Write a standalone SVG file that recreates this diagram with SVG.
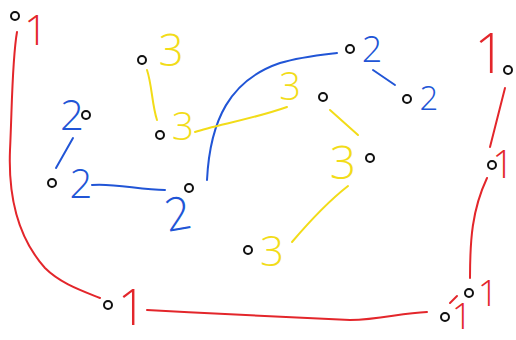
<svg xmlns="http://www.w3.org/2000/svg" width="516" height="340" viewBox="0 0 516 340">
<style>
.n{fill:#fff;stroke:#111;stroke-width:2}
.t{font-family:"Open Sans","Liberation Sans",sans-serif;font-weight:300;text-anchor:middle}
.r{fill:#e3262b}.b{fill:#2155d6}.y{fill:#f2dc18}
.c{fill:none;stroke-width:2;stroke-linecap:round}
.cr{stroke:#e3262b}.cb{stroke:#2155d6}.cy{stroke:#f2dc18}
</style>
<rect width="516" height="340" fill="#fff"/>
<g id="connectors">
<path class="c cr" d="M17,32 C12,60 12,110 10,150 C8,200 20,240 45,268 C60,283 80,290 100,298"/>
<path class="c cr" d="M147,310 C220,314 300,318 350,320 C380,320 400,313 427,312"/>
<path class="c cr" d="M450,303 L457,296"/>
<path class="c cr" d="M470,278 C470,240 472,210 487,178"/>
<path class="c cr" d="M490,147 L505,88"/>
<path class="c cb" d="M73,138 L56,168"/>
<path class="c cb" d="M92,185 C115,183 140,190 165,190"/>
<path class="c cb" d="M207,180 C210,120 230,80 280,63 C300,57 320,55 337,53"/>
<path class="c cb" d="M373,70 L395,85"/>
<path class="c cy" d="M147,70 C152,85 152,105 157,120"/>
<path class="c cy" d="M195,132 C215,125 250,120 287,107"/>
<path class="c cy" d="M330,110 L358,135"/>
<path class="c cy" d="M348,186 C330,200 315,215 292,242"/>
</g>
<g id="n1"><circle class="n" cx="15" cy="16" r="4"/><text class="t r" x="36" y="45" font-size="42">1</text></g>
<g id="n2"><circle class="n" cx="142" cy="60" r="4"/><text class="t y" x="171" y="66" font-size="44">3</text></g>
<g id="n3"><circle class="n" cx="86" cy="115" r="4"/><text class="t b" x="72" y="130" font-size="42">2</text></g>
<g id="n4"><circle class="n" cx="160" cy="135" r="4"/><text class="t y" x="183" y="140" font-size="39">3</text></g>
<g id="n5"><circle class="n" cx="52" cy="183" r="4"/><text class="t b" x="81" y="198" font-size="40">2</text></g>
<g id="n6"><circle class="n" cx="189" cy="188" r="4"/><text class="t b" x="178" y="230" font-size="46" transform="rotate(-10 178 215)">2</text></g>
<g id="n7"><circle class="n" cx="350" cy="49" r="4"/><text class="t b" x="372" y="62" font-size="36">2</text></g>
<g id="n8"><circle class="n" cx="323" cy="97" r="4"/><text class="t y" x="290" y="100" font-size="38">3</text></g>
<g id="n9"><circle class="n" cx="407" cy="99" r="4"/><text class="t b" x="429" y="110" font-size="33">2</text></g>
<g id="n10"><circle class="n" cx="370" cy="158" r="4"/><text class="t y" x="343" y="179" font-size="46">3</text></g>
<g id="n11"><circle class="n" cx="248" cy="250" r="4"/><text class="t y" x="272" y="266" font-size="42">3</text></g>
<g id="n12"><circle class="n" cx="108" cy="305" r="4"/><text class="t r" x="132" y="325" font-size="50">1</text></g>
<g id="n13"><circle class="n" cx="508" cy="70" r="4"/><text class="t r" x="490" y="73" font-size="55">1</text></g>
<g id="n14"><circle class="n" cx="492" cy="165" r="4"/><text class="t r" x="503" y="178" font-size="38">1</text></g>
<g id="n15"><circle class="n" cx="469" cy="293" r="4"/><text class="t r" x="488" y="306" font-size="36">1</text></g>
<g id="n16"><circle class="n" cx="445" cy="317" r="4"/><text class="t r" x="462" y="329" font-size="36">1</text></g>
</svg>
